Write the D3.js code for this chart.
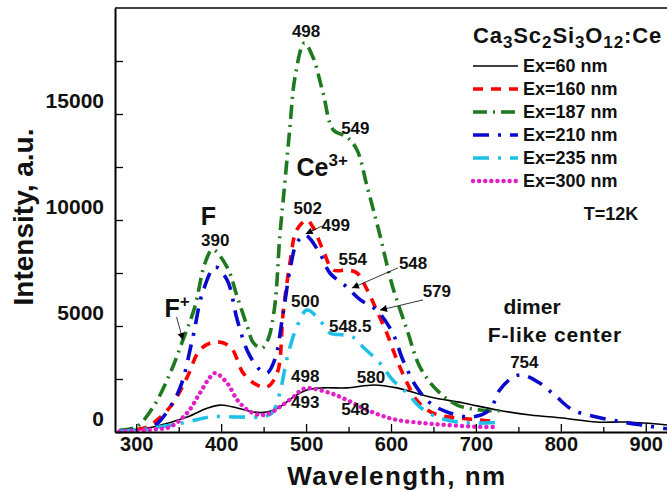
<!DOCTYPE html>
<html>
<head>
<meta charset="utf-8">
<script src="https://cdn.jsdelivr.net/npm/d3@7"></script>
<style>
  body { margin: 0; background: #fff; }
  svg { font-family: "Liberation Sans", Arial, sans-serif; font-weight: bold; }
</style>
</head>
<body>
<div id="chart"></div>
<script>
// spectra, [wavelength nm, intensity a.u.]
var ex60 = [[280,60],[300,120],[320,240],[360,710],[384,1130],[399,1270],[419,1130],[438,940],[454,940],[469,1180],
  [485,1650],[501,1980],[520,2080],[548,2080],[580,2220],[607,2080],[646,1650],[685,1370],[725,1040],[764,800],
  [802,660],[842,470],[878,470],[925,330]];
var ex160 = [[280,50],[300,120],[313,240],[340,1180],[360,2590],[375,3870],[393,4250],[411,4010],[426,2780],[442,2220],
  [454,2120],[466,2780],[473,5610],[481,7970],[489,9530],[501,10000],[508,9670],[520,8580],[532,7640],[548,7640],
  [560,7500],[572,6700],[583,5750],[595,4670],[607,3400],[619,2310],[630,1510],[649,900],[678,660],[705,570],[725,470]];
var ex187 = [[280,80],[300,236],[320,1180],[340,2780],[355,4340],[369,5900],[381,7970],[390,8600],[407,7780],[419,6370],
  [431,4950],[438,4200],[448,3960],[455,4340],[463,5900],[469,9200],[475,11750],[481,14390],[487,16750],[498,18350],
  [508,17690],[520,15990],[532,14250],[548,13920],[560,13300],[572,11560],[585,9600],[602,6840],[619,4810],[634,3070],
  [654,1980],[678,1270],[705,1040],[728,1000]];
var ex210 = [[280,50],[300,100],[320,240],[349,1840],[366,4340],[378,6560],[393,7780],[407,7170],[419,5280],[432,3730],
  [446,2920],[454,2780],[463,3400],[473,5610],[481,7640],[489,8910],[499,9290],[516,8440],[528,7500],[548,6840],
  [564,6230],[583,5750],[602,4670],[614,3400],[630,2120],[646,1370],[669,900],[696,710],[716,1040],[728,1980],
  [744,2590],[755,2690],[775,2310],[795,1650],[814,1040],[842,710],[873,470],[900,300],[925,150]];
var ex235 = [[280,30],[300,80],[320,190],[360,470],[387,710],[419,710],[446,710],[460,900],[469,1840],[478,3540],
  [489,4950],[501,5750],[516,5280],[528,4670],[544,4580],[555,4480],[567,4010],[587,3250],[602,2450],[619,1840],
  [634,1180],[654,710],[678,470],[705,420],[730,470]];
var ex300 = [[280,30],[300,60],[320,120],[340,240],[360,900],[375,1840],[387,2590],[393,2780],[407,2310],[419,1510],
  [431,1040],[446,800],[458,900],[469,1180],[485,1650],[498,2050],[528,1840],[548,1510],[567,1130],[587,800],
  [607,570],[638,420],[666,330],[705,240],[725,240]];

var seriesNames = ["Ex=60 nm", "Ex=160 nm", "Ex=187 nm", "Ex=210 nm", "Ex=235 nm", "Ex=300 nm"];
var seriesData = [ex60, ex160, ex187, ex210, ex235, ex300];

var xTicks = [300, 400, 500, 600, 700, 800, 900];
var yTicks = [0, 5000, 10000, 15000];

// peak labels [wavelength, intensity, text]
var peakLabels = [[500,18900,"498"],[558,14340,"549"],[393,9060,"390"],[502,10570,"502"],[535,9760,"499"],
  [555,8160,"554"],[626,7970,"548"],[654,6650,"579"],[499,6180,"500"],[552,5000,"548.5"],[757,3300,"754"],
  [499,2640,"498"],[576.5,2590,"580"],[499,1415,"493"],[558,1085,"548"]];
// arrows [from wl, from I, to wl, to I]
var arrows = [[347.5,5420,355,4340],[519,9720,499.5,9340],[608,7740,554,6790],[637.7,6230,587,5750]];

var styles = [
  { color: "#000000", width: 1.6, dash: null, cap: "butt" },
  { color: "#ff0000", width: 3.6, dash: "10,8", cap: "butt" },
  { color: "#1f7a1f", width: 3.6, dash: "14,6,2,6", cap: "butt" },
  { color: "#0a0acc", width: 3.6, dash: "16,9,3,9", cap: "butt" },
  { color: "#1ec0e8", width: 3.6, dash: "16,9,3,9", cap: "butt" },
  { color: "#e21ec8", width: 4.4, dash: "0.1,6", cap: "round" }
];

var W = 667, H = 492;
var svg = d3.select("#chart").append("svg").attr("width", W).attr("height", H);

var x = d3.scaleLinear().domain([275, 925]).range([115, 667]);
var y = d3.scaleLinear().domain([0, 20000]).range([432, 8]);

// frame top
svg.append("line").attr("x1", x(275)).attr("x2", x(925)).attr("y1", y(20000)).attr("y2", y(20000))
  .attr("stroke", "#000").attr("stroke-width", 1.5);

var line = d3.line().x(function(d) { return x(d[0]); }).y(function(d) { return y(d[1]); })
  .curve(d3.curveCatmullRom.alpha(0.5));

seriesData.forEach(function(data, i) {
  var s = styles[i];
  svg.append("path").datum(data).attr("d", line)
    .attr("fill", "none").attr("stroke", s.color).attr("stroke-width", s.width)
    .attr("stroke-dasharray", s.dash).attr("stroke-linecap", s.cap).attr("stroke-linejoin", "round");
});

// axes
var xAxis = svg.append("g").attr("transform", "translate(0," + y(0) + ")")
  .call(d3.axisBottom(x).tickValues(xTicks).tickSizeInner(-8).tickSizeOuter(0).tickPadding(5));
svg.append("g").attr("transform", "translate(0," + y(0) + ")")
  .call(d3.axisBottom(x).tickValues(d3.range(350, 925, 100)).tickSizeInner(-5).tickSizeOuter(0).tickFormat(""))
  .select(".domain").remove();
var yAxis = svg.append("g").attr("transform", "translate(" + x(275) + ",0)")
  .call(d3.axisLeft(y).tickValues(yTicks).tickFormat(d3.format("d")).tickSizeInner(-8).tickSizeOuter(0).tickPadding(11));
svg.append("g").attr("transform", "translate(" + x(275) + ",0)")
  .call(d3.axisLeft(y).tickValues([2500, 7500, 12500, 17500]).tickSizeInner(-8).tickSizeOuter(0).tickFormat(""))
  .select(".domain").remove();

svg.selectAll(".domain").attr("stroke", "#000").attr("stroke-width", 2);
svg.selectAll(".tick line").attr("stroke", "#000").attr("stroke-width", 1.3);
xAxis.selectAll("text").attr("font-size", 20).attr("font-family", "Liberation Sans, Arial").attr("font-weight", "bold").attr("fill", "#111");
yAxis.selectAll("text").attr("font-size", 21).attr("font-family", "Liberation Sans, Arial").attr("font-weight", "bold").attr("fill", "#111").attr("y", -13);

// axis titles
svg.append("text").attr("x", 397).attr("y", 485).attr("text-anchor", "middle")
  .attr("font-size", 26).attr("letter-spacing", 1.5).attr("fill", "#111").text("Wavelength, nm");
svg.append("text").attr("transform", "translate(33,217) rotate(-90)").attr("text-anchor", "middle")
  .attr("font-size", 28).attr("fill", "#111").text("Intensity, a.u.");

// title
var title = svg.append("text").attr("x", 473).attr("y", 43).attr("font-size", 22)
  .attr("letter-spacing", 0.9).attr("fill", "#111");
[["Ca",0],["3",1],["Sc",0],["2",1],["Si",0],["3",1],["O",0],["12",1],[":Ce",0]].forEach(function(p, i, arr) {
  var t = title.append("tspan").text(p[0]);
  if (p[1]) t.attr("font-size", 17).attr("dy", 5);
  else if (i > 0 && arr[i - 1][1]) t.attr("dy", -5);
});

// legend
var legend = svg.append("g").attr("transform", "translate(473,66)");
seriesNames.forEach(function(name, i) {
  var s = styles[i];
  var g = legend.append("g").attr("transform", "translate(0," + i * 23 + ")");
  g.append("line").attr("x1", 0).attr("x2", 45).attr("y1", 0).attr("y2", 0)
    .attr("stroke", s.color).attr("stroke-width", s.width).attr("stroke-dasharray", s.dash)
    .attr("stroke-linecap", s.cap);
  g.append("text").attr("x", 50).attr("y", 6).attr("font-size", 18).attr("fill", "#111").text(name);
});

svg.append("text").attr("x", x(859)).attr("y", y(10330) + 7).attr("text-anchor", "middle")
  .attr("font-size", 18).attr("fill", "#111").text("T=12K");

// peak labels
svg.selectAll(".peak").data(peakLabels).enter().append("text").attr("class", "peak")
  .attr("x", function(d) { return x(d[0]); }).attr("y", function(d) { return y(d[1]) + 6; })
  .attr("text-anchor", "middle").attr("font-size", 17).attr("fill", "#111")
  .text(function(d) { return d[2]; });

// center labels
svg.append("text").attr("x", x(385)).attr("y", y(10190) + 9).attr("text-anchor", "middle")
  .attr("font-size", 25).attr("fill", "#111").text("F");
var fplus = svg.append("text").attr("x", x(348)).attr("y", y(5850) + 9).attr("text-anchor", "middle")
  .attr("font-size", 25).attr("fill", "#111");
fplus.append("tspan").text("F");
fplus.append("tspan").attr("font-size", 17).attr("dy", -10).text("+");
var ce = svg.append("text").attr("x", x(519)).attr("y", y(12500) + 9).attr("text-anchor", "middle")
  .attr("font-size", 25).attr("fill", "#111");
ce.append("tspan").text("Ce");
ce.append("tspan").attr("font-size", 17).attr("dy", -10).text("3+");
svg.append("text").attr("x", x(766)).attr("y", y(5900) + 7).attr("text-anchor", "middle")
  .attr("font-size", 21).attr("fill", "#111").text("dimer");
svg.append("text").attr("x", x(793)).attr("y", y(4575) + 7).attr("text-anchor", "middle")
  .attr("font-size", 21).attr("letter-spacing", 0.8).attr("fill", "#111").text("F-like center");

// arrows
svg.append("defs").append("marker").attr("id", "arr").attr("viewBox", "0 0 10 10")
  .attr("refX", 10).attr("refY", 5).attr("markerWidth", 9).attr("markerHeight", 7)
  .attr("markerUnits", "userSpaceOnUse").attr("orient", "auto")
  .append("path").attr("d", "M0,0L10,5L0,10z").attr("fill", "#000");
svg.selectAll(".arrow").data(arrows).enter().append("line").attr("class", "arrow")
  .attr("x1", function(d) { return x(d[0]); }).attr("y1", function(d) { return y(d[1]); })
  .attr("x2", function(d) { return x(d[2]); }).attr("y2", function(d) { return y(d[3]); })
  .attr("stroke", "#000").attr("stroke-width", 0.8).attr("marker-end", "url(#arr)");
</script>
</body>
</html>
